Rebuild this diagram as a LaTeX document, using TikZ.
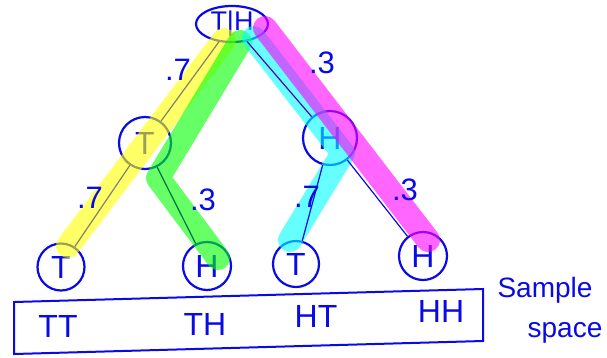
\documentclass[tikz,border=0pt]{standalone}
\usepackage{fontspec}
\setmainfont{Liberation Sans}
\usetikzlibrary{shapes.geometric}
\definecolor{penblue}{RGB}{10,10,230}
\definecolor{pengray}{RGB}{130,130,110}
\definecolor{pengreen}{RGB}{0,110,70}
\definecolor{penpurple}{RGB}{90,0,170}
\definecolor{hlyellow}{RGB}{255,255,0}
\definecolor{hlgreen}{RGB}{0,255,0}
\definecolor{hlcyan}{RGB}{0,255,255}
\definecolor{hlmagenta}{RGB}{255,0,255}
\tikzset{
  tn/.style={draw=penblue, line width=2.2pt, circle, inner sep=0pt, text=penblue,
             font=\fontsize{32}{32}\selectfont},
  hl/.style={line width=24pt, line cap=round, line join=round, opacity=0.6},
  trace/.style={line width=1.2pt},
  prob/.style={text=penblue, font=\fontsize{31}{31}\selectfont},
  outc/.style={text=penblue, font=\fontsize{32}{32}\selectfont},
  note/.style={text=penblue, font=\fontsize{28}{28}\selectfont},
}
\begin{document}
\begin{tikzpicture}[x=1pt,y=-1pt]
\useasboundingbox (0,0) rectangle (607,357);
% nodes
\node[tn, ellipse, minimum width=72pt, minimum height=36pt, font=\fontsize{27}{27}\selectfont] (root) at (232,24) {T|H};
\node[tn, minimum size=52pt] (t1) at (145,143) {T};
\node[tn, minimum size=54pt] (h1) at (330,138) {H};
\node[tn, minimum size=47pt] (l1) at (61,267) {T};
\node[tn, minimum size=48pt] (l2) at (207,266) {H};
\node[tn, minimum size=46pt] (l3) at (296,264) {T};
\node[tn, minimum size=48pt] (l4) at (423,256) {H};
% highlight coordinates
\coordinate (ya) at (224,40);
\coordinate (yb) at (68,246);
\coordinate (ga) at (240,42);
\coordinate (gb) at (158,178);
\coordinate (gc) at (218,258);
\coordinate (ca) at (254,38);
\coordinate (cb) at (343,153);
\coordinate (cc) at (290,240);
\coordinate (ma) at (265,28);
\coordinate (mb) at (428,240);
% highlights
\draw[hl, hlyellow] (ya) -- (yb);
\draw[hl, hlgreen] (ga) -- (gb) -- (gc);
\draw[hl, hlcyan] (ca) -- (cb) -- (cc);
\draw[hl, hlmagenta] (ma) -- (mb);
% pen traces of the tree edges
\draw[trace, pengray] (root) -- (t1);
\draw[trace, pengray] (t1) -- (l1);
\draw[trace, pengreen] (t1) -- (l2);
\draw[trace, penpurple] (root) -- (h1);
\draw[trace, penblue] (h1) -- (l3);
\draw[trace, penblue] (h1) -- (l4);
% probabilities
\node[prob] (p1) at (178,70) {.7};
\node[prob] (p2) at (322,63) {.3};
\node[prob] (p3) at (90,198) {.7};
\node[prob] (p4) at (203,200) {.3};
\node[prob] (p5) at (307,197) {.7};
\node[prob] (p6) at (405,190) {.3};
% sample space box
\draw[penblue, line width=2pt] (14,302) -- (483,289) -- (483,341) -- (14,354) -- cycle;
\node[outc] (tt) at (58,326) {TT};
\node[outc] (th) at (205,324) {TH};
\node[outc] (ht) at (316,316) {HT};
\node[outc] (hh) at (441,311) {HH};
\node[note] (s1) at (545,290) {Sample};
\node[note] (s2) at (565,333) {space};
\end{tikzpicture}
\end{document}
